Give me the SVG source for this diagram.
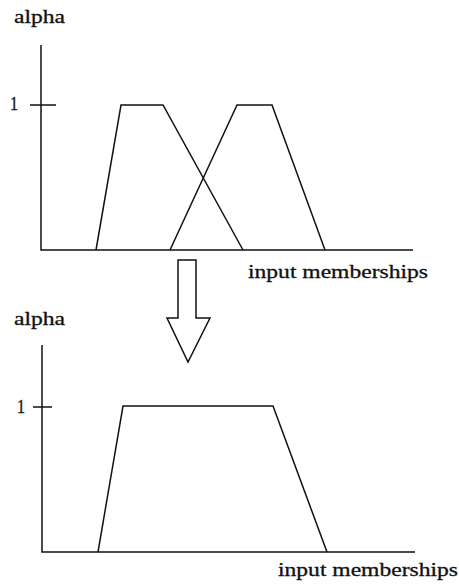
<svg xmlns="http://www.w3.org/2000/svg" width="459" height="585" viewBox="0 0 459 585">
<style>
.ln{fill:none;stroke:#111;stroke-width:1.5;stroke-linejoin:miter}
.t{font-family:"Liberation Serif","Times New Roman",serif;font-size:18px;fill:#111;stroke:#111;stroke-width:0.3}
</style>
<rect width="459" height="585" fill="#fff"/>
<g id="top-chart">
<text class="t" x="14" y="23" textLength="51" lengthAdjust="spacingAndGlyphs">alpha</text>
<text class="t" x="10" y="110" textLength="8" lengthAdjust="spacingAndGlyphs">1</text>
<polyline class="ln" points="41,45 41,250 413,250"/>
<line class="ln" x1="30" y1="105" x2="56" y2="105"/>
<polyline id="mf1" class="ln" points="96,250 121,105 163,105 243,250"/>
<polyline id="mf2" class="ln" points="170,250 237,105 272,105 325,250"/>
<text class="t" x="248" y="278" textLength="180" lengthAdjust="spacingAndGlyphs">input memberships</text>
</g>
<g id="connectors">
<polygon class="ln" points="178,260 196,260 196,318 210,318 188,362 167,318 178,318"/>
</g>
<g id="bottom-chart">
<text class="t" x="14" y="325" textLength="51" lengthAdjust="spacingAndGlyphs">alpha</text>
<text class="t" x="17" y="413" textLength="8" lengthAdjust="spacingAndGlyphs">1</text>
<polyline class="ln" points="42,345 42,552 415,552"/>
<line class="ln" x1="33" y1="407" x2="52" y2="407"/>
<polyline id="mf-out" class="ln" points="98,552 123,406 273,406 327,552"/>
<text class="t" x="278" y="576" textLength="180" lengthAdjust="spacingAndGlyphs">input memberships</text>
</g>
</svg>
